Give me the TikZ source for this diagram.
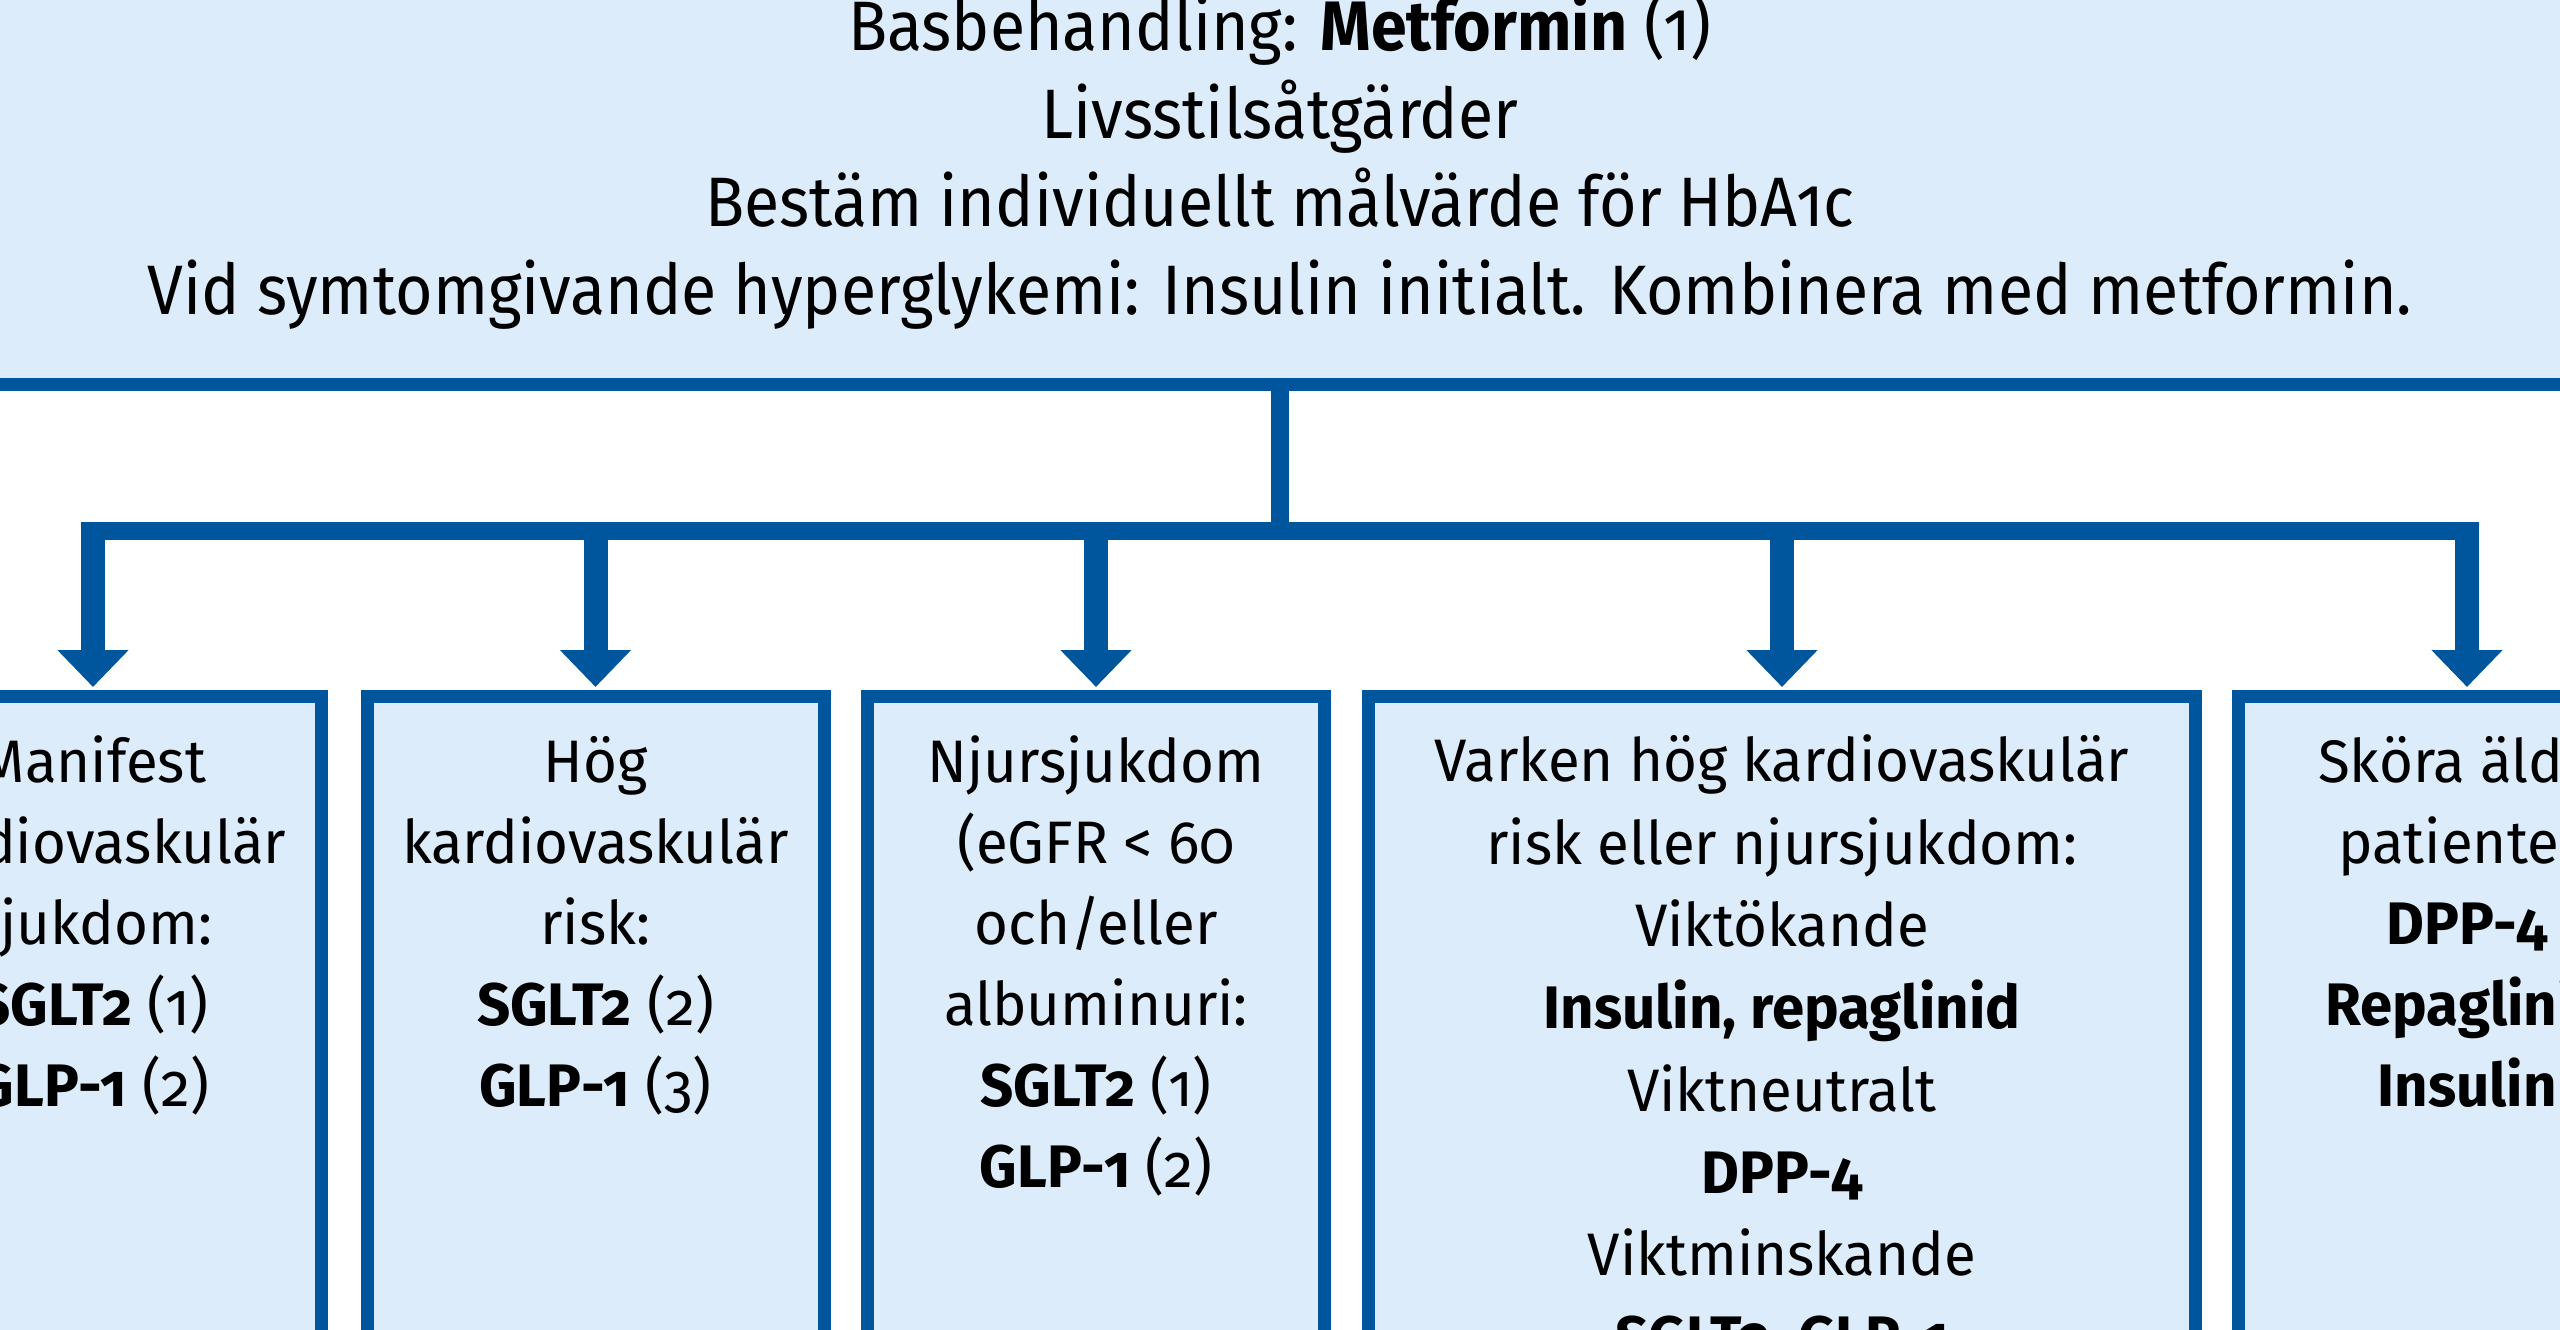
\documentclass[tikz,border=0pt]{standalone}
\usepackage{fontspec}
\setmainfont{Fira Sans}[Numbers=OldStyle]
\newfontfamily\topfont{Fira Sans}[Numbers=OldStyle, FakeStretch=0.92]
\newfontfamily\boxfont{Fira Sans}[Numbers=OldStyle, FakeStretch=0.97]
\usetikzlibrary{arrows.meta}
\definecolor{frameblue}{HTML}{00569D}
\definecolor{paleblue}{HTML}{DCECFA}
\tikzset{
  every node/.style={outer sep=0pt, inner sep=0pt},
  topbox/.style={draw=frameblue, fill=paleblue, line width=13pt, minimum width=2800pt, minimum height=500pt},
  catbox/.style={draw=frameblue, fill=paleblue, line width=13pt, minimum width=457pt, minimum height=800pt},
  widebox/.style={catbox, minimum width=827pt},
  toptext/.style={align=center, font=\topfont\fontsize{70pt}{88pt}\selectfont},
  boxtext/.style={align=center, font=\boxfont\fontsize{60pt}{81pt}\selectfont},
  widetext/.style={align=center, font=\boxfont\fontsize{60pt}{82.3pt}\selectfont},
  stemline/.style={draw=frameblue, line width=18pt},
  branch/.style={draw=frameblue, line width=24pt, -{Triangle[width=69pt,length=37pt]}, shorten >=9.5pt},
}
\begin{document}
\begin{tikzpicture}[x=1pt, y=-1pt]
\useasboundingbox (0,0) rectangle (2560,1330);
\clip (0,0) rectangle (2560,1330);
\node[topbox, anchor=south] (top) at (1280,384.5) {};
% anchor=base of a multi-line node is the baseline of its last line
\node[toptext, anchor=base] (toptxt) at (1280,314) {Basbehandling: \textbf{Metformin} (1)\\ Livsstilsåtgärder\\ Bestäm individuellt målvärde för HbA1c\\ Vid symtomgivande hyperglykemi: Insulin initialt. Kombinera med metformin.};

\node[catbox, anchor=north] (b1) at (93,696.5) {};
\node[catbox, anchor=north] (b2) at (595.5,696.5) {};
\node[catbox, anchor=north] (b3) at (1096,696.5) {};
\node[widebox, anchor=north] (b4) at (1782,696.5) {};
\node[catbox, anchor=north] (b5) at (2467,696.5) {};

\node[boxtext, anchor=base] (t1) at (93,1106) {Manifest\\ kardiovaskulär\\ sjukdom:\\ \textbf{SGLT2} (1)\\ \textbf{GLP-1} (2)};
\node[boxtext, anchor=base] (t2) at (595.5,1106) {Hög\\ kardiovaskulär\\ risk:\\ \textbf{SGLT2} (2)\\ \textbf{GLP-1} (3)};
\node[boxtext, anchor=base] (t3) at (1096,1187) {Njursjukdom\\ (eGFR < 60\\ och/eller\\ albuminuri:\\ \textbf{SGLT2} (1)\\ \textbf{GLP-1} (2)};
\node[widetext, anchor=base] (t4) at (1782,1358) {Varken hög kardiovaskulär\\ risk eller njursjukdom:\\ Viktökande\\ \textbf{Insulin, repaglinid}\\ Viktneutralt\\ \textbf{DPP-4}\\ Viktminskande\\ \textbf{SGLT2, GLP-1}};
\node[boxtext, anchor=base] (t5) at (2467,1106) {Sköra äldre\\ patienter:\\ \textbf{DPP-4}\\ \textbf{Repaglinid}\\ \textbf{Insulin}};

\coordinate (J) at (1280,531);
\coordinate (barL) at (81,531);
\coordinate (barR) at (2479,531);
\draw[stemline] (top.south) -- (J);
\draw[stemline] (barL) -- (barR);
\foreach \b in {b1,b2,b3,b4,b5} \draw[branch] (J -| \b.north) -- (\b.north);
\end{tikzpicture}
\end{document}
